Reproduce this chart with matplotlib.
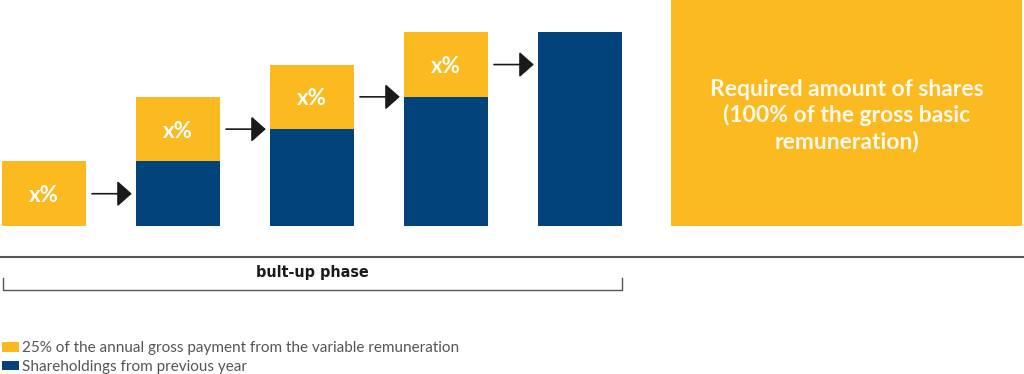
import matplotlib
matplotlib.use("Agg")
import matplotlib.pyplot as plt
from matplotlib.patches import Patch

# ── data ──────────────────────────────────────────
steps = [0, 1, 2, 3, 4]
previous = [0.0, 1.0, 1.5, 2.0, 3.0]        # shareholdings from previous year
variable = [1.0, 1.0, 1.0, 1.0, 0.0]        # 25% of variable remuneration
step_labels = ["x%", "x%", "x%", "x%", ""]
target_pos = 5.99
target_value = 3.5
target_label = "Required amount of shares\n(100% of the gross basic\nremuneration)"
phase_label = "bult-up phase"
legend_labels = ["25% of the annual gross payment from the variable remuneration",
                 "Shareholdings from previous year"]

YELLOW = "#FBBA20"
BLUE = "#01437A"
GREY = "#555555"

W, H = 1024, 374
fig = plt.figure(figsize=(W / 100, H / 100), dpi=100)

xlim = (-44 / 134, (W - 44) / 134)
bw = 84 / 134

# ── bars ──────────────────────────────────────────
ax = fig.add_axes([0, 148 / H, 1, 226 / H])
ax.bar(steps, previous, width=bw, color=BLUE)
ax.bar(steps, variable, bottom=previous, width=bw, color=YELLOW)
ax.bar([target_pos], [target_value], width=351 / 134, color=YELLOW)
ax.set_xlim(*xlim)
ax.set_ylim(0, target_value)
ax.axis("off")

for i, lab in zip(steps, step_labels):
    if lab:
        ax.text(i, previous[i] + variable[i] / 2 - 0.03, lab, ha="center", va="center",
                color="white", fontsize=16, fontweight="bold", family="Lato")

# arrows from each bar to the next
for i in steps[:-1]:
    y = previous[i] + variable[i] / 2
    ax.annotate("", xy=(i + 0.655, y), xytext=(i + 0.358, y),
                arrowprops=dict(arrowstyle="-|>,head_length=0.45,head_width=0.4",
                                color="#1a1a1a", lw=1.2, shrinkA=0, shrinkB=0,
                                mutation_scale=20))

ax.text(target_pos, target_value / 2 - 0.04, target_label, ha="center", va="center",
        color="#FFF8EC", fontsize=16.5, fontweight="bold", family="Lato",
        linespacing=1.25)

# ── phase bracket ─────────────────────────────────
bx = fig.add_axes([0, 74 / H, 1, 60 / H])
bx.set_xlim(*xlim)
bx.set_ylim(0, 60)
bx.axis("off")
bx.plot(xlim, [43, 43], color=GREY, lw=1.5, solid_capstyle="butt")
bx.plot([-0.305, -0.305, 4.31, 4.31], [22, 10, 10, 22], color=GREY, lw=1.0)
bx.text(2, 27, phase_label, ha="center", va="center", fontsize=11.5,
        fontweight="bold", family="DejaVu Sans", fontstretch="condensed",
        color="#1a1a1a")

# ── legend ────────────────────────────────────────
handles = [Patch(facecolor=YELLOW), Patch(facecolor=BLUE)]
leg = fig.legend(handles, legend_labels, loc="lower left", bbox_to_anchor=(2 / W, 0),
                 frameon=False, handlelength=1.1, handleheight=0.6,
                 handletextpad=0.2, labelspacing=0.3, borderpad=0, borderaxespad=0,
                 prop=dict(family="Lato", size=11))
for t in leg.get_texts():
    t.set_color(GREY)

fig.savefig("out.png", dpi=100)
